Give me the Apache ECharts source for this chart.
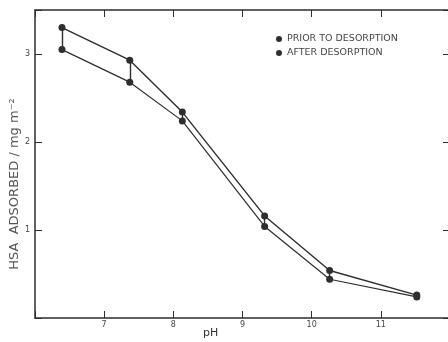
<!DOCTYPE html>
<html>
<head>
<meta charset="utf-8">
<script src="https://cdn.jsdelivr.net/npm/echarts@6/dist/echarts.min.js"></script>
<style>
  html, body { margin: 0; padding: 0; background: #fff; }
  #chart { width: 448px; height: 342px; }
</style>
</head>
<body>
<div id="chart"></div>
<script>
// pH of each measurement
var ph = [6.39, 7.37, 8.13, 9.32, 10.26, 11.52];
// HSA adsorbed, mg m-2
var priorData = [3.30, 2.93, 2.34, 1.16, 0.54, 0.26];
var afterData = [3.05, 2.68, 2.24, 1.04, 0.44, 0.24];
var xTicks = [7, 8, 9, 10, 11];
var yTicks = [1, 2, 3];

var ink = '#2e2e2e';

var chart = echarts.init(document.getElementById('chart'));

var pairs = ph.map(function (p, i) {
    return { coords: [[p, priorData[i]], [p, afterData[i]]] };
});

function ticks() {
    return { show: true, inside: true, length: 7, lineStyle: { color: ink, width: 1 } };
}
function axisLine() {
    return { show: true, onZero: false, lineStyle: { color: ink, width: 1.5 } };
}

var option = {
    backgroundColor: '#fff',
    animation: false,
    // plot runs a little past the right edge, like the cropped scan
    grid: { left: 35, width: 415, top: 10, bottom: 24, outerBoundsMode: 'none' },
    legend: {
        orient: 'vertical',
        left: 271,
        top: 29,
        itemGap: 4,
        itemWidth: 6,
        itemHeight: 6,
        icon: 'circle',
        textStyle: { fontFamily: 'DejaVu Sans', fontSize: 9.5, color: '#444' },
        data: ['PRIOR TO DESORPTION', 'AFTER DESORPTION']
    },
    xAxis: [
        {
            type: 'value', min: 6, max: 12, interval: 1,
            axisLine: axisLine(),
            axisTick: ticks(),
            splitLine: { show: false },
            axisLabel: {
                margin: 3, fontSize: 8, color: '#444', fontFamily: 'DejaVu Sans',
                formatter: function (v) { return xTicks.indexOf(v) >= 0 ? String(v) : ''; }
            }
        },
        {
            type: 'value', min: 6, max: 12, interval: 1, position: 'top',
            axisLine: axisLine(),
            axisTick: ticks(),
            splitLine: { show: false },
            axisLabel: { show: false }
        }
    ],
    yAxis: [
        {
            type: 'value', min: 0, max: 3.5, interval: 1,
            axisLine: axisLine(),
            axisTick: ticks(),
            splitLine: { show: false },
            axisLabel: {
                margin: 5, fontSize: 8, color: '#444', fontFamily: 'DejaVu Sans',
                formatter: function (v) { return yTicks.indexOf(v) >= 0 ? String(v) : ''; }
            }
        },
        {
            type: 'value', min: 0, max: 3.5, interval: 1, position: 'right',
            axisLine: axisLine(),
            axisTick: ticks(),
            splitLine: { show: false },
            axisLabel: { show: false }
        }
    ],
    graphic: [
        {
            type: 'text',
            x: 15, y: 184,
            rotation: Math.PI / 2,
            style: {
                text: 'HSA  ADSORBED / mg m⁻²',
                fontFamily: 'DejaVu Sans',
                fontSize: 13,
                fill: '#555',
                align: 'center',
                verticalAlign: 'middle'
            }
        },
        {
            type: 'text',
            x: 203, y: 328,
            style: {
                text: 'pH',
                fontFamily: 'DejaVu Sans',
                fontSize: 11,
                fill: '#333'
            }
        }
    ],
    series: [
        {
            name: 'PRIOR TO DESORPTION',
            type: 'line',
            data: ph.map(function (p, i) { return [p, priorData[i]]; }),
            symbol: 'circle',
            symbolSize: 7,
            itemStyle: { color: ink },
            lineStyle: { color: ink, width: 1.4 }
        },
        {
            name: 'AFTER DESORPTION',
            type: 'line',
            data: ph.map(function (p, i) { return [p, afterData[i]]; }),
            symbol: 'circle',
            symbolSize: 7,
            itemStyle: { color: ink },
            lineStyle: { color: ink, width: 1.2 }
        },
        {
            type: 'lines',
            coordinateSystem: 'cartesian2d',
            lineStyle: { color: ink, width: 1.4, opacity: 1 },
            data: pairs,
            z: 1
        }
    ]
};

chart.setOption(option);
</script>
</body>
</html>
